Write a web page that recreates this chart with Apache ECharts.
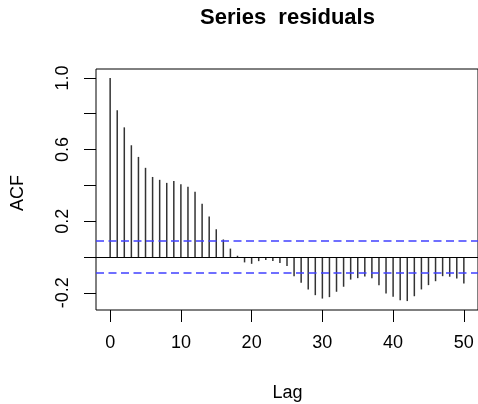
<!DOCTYPE html>
<html>
<head>
<meta charset="utf-8">
<script src="https://cdn.jsdelivr.net/npm/echarts@6/dist/echarts.min.js"></script>
<style>
html,body{margin:0;padding:0;background:#fff;}
#chart{width:478px;height:404px;}
</style>
</head>
<body>
<div id="chart"></div>
<script>
// ---- data ----
const titleText = 'Series  residuals';
const xAxisTitle = 'Lag';
const yAxisTitle = 'ACF';
const lags = [0,1,2,3,4,5,6,7,8,9,10,11,12,13,14,15,16,17,18,19,20,21,22,23,24,25,26,27,28,29,30,31,32,33,34,35,36,37,38,39,40,41,42,43,44,45,46,47,48,49,50];
const acfValues = [1.0, 0.819, 0.724, 0.624, 0.559, 0.498, 0.447, 0.431, 0.414, 0.425, 0.406, 0.392, 0.365, 0.298, 0.226, 0.155, 0.098, 0.047, 0.007, -0.030, -0.038, -0.023, -0.016, -0.022, -0.033, -0.050, -0.107, -0.144, -0.181, -0.213, -0.232, -0.224, -0.194, -0.166, -0.126, -0.118, -0.109, -0.118, -0.157, -0.204, -0.222, -0.241, -0.246, -0.219, -0.181, -0.157, -0.135, -0.107, -0.110, -0.120, -0.148];
const ciBound = 0.088;
const xTicks = [0, 10, 20, 30, 40, 50];
const yTicks = [-0.2, 0, 0.2, 0.4, 0.6, 0.8, 1.0];
const yTickLabels = [-0.2, 0.2, 0.6, 1.0];

// ---- chart ----
const FONT = '"Liberation Sans", Arial, Helvetica, sans-serif';
const chart = echarts.init(document.getElementById('chart'), null, {renderer: 'canvas'});

// R-style axis limits: data range extended by 4%
const xr = [lags[0], lags[lags.length - 1]];
const yr = [Math.min(...acfValues), Math.max(...acfValues)];
const xPad = (xr[1] - xr[0]) * 0.04;
const yPad = (yr[1] - yr[0]) * 0.04;

const option = {
  animation: false,
  backgroundColor: '#fff',
  grid: {
    left: 96, top: 69, width: 384, bottom: 94,
    show: true, borderColor: '#000', borderWidth: 1, backgroundColor: 'transparent'
  },
  xAxis: {
    type: 'value',
    min: xr[0] - xPad, max: xr[1] + xPad,
    axisLine: {show: false, onZero: false},
    splitLine: {show: false},
    axisTick: {show: true, inside: false, length: 12, customValues: xTicks, lineStyle: {color: '#000', width: 1}},
    axisLabel: {show: true, customValues: xTicks, margin: 24, color: '#000', fontSize: 18, fontFamily: FONT,
      formatter: v => String(Math.round(v))}
  },
  yAxis: {
    type: 'value',
    min: yr[0] - yPad, max: yr[1] + yPad,
    axisLine: {show: false, onZero: false},
    splitLine: {show: false},
    axisTick: {show: true, inside: false, length: 12, customValues: yTicks, lineStyle: {color: '#000', width: 1}},
    axisLabel: {show: true, customValues: yTickLabels, rotate: 90, margin: 24, color: '#000', fontSize: 18, fontFamily: FONT,
      formatter: v => v.toFixed(1)}
  },
  graphic: [
    {type: 'text', x: 287.5, y: 18, style: {text: titleText, font: 'bold 22px ' + FONT, fill: '#000', textAlign: 'center', textVerticalAlign: 'middle'}},
    {type: 'text', x: 287.5, y: 393, style: {text: xAxisTitle, font: '18px ' + FONT, fill: '#000', textAlign: 'center', textVerticalAlign: 'middle'}},
    {type: 'text', x: 18.5, y: 193, rotation: Math.PI / 2, style: {text: yAxisTitle, font: '18px ' + FONT, fill: '#000', textAlign: 'center', textVerticalAlign: 'middle'}}
  ],
  series: [
    {
      type: 'bar',
      data: lags.map((l, i) => [l, acfValues[i]]),
      barWidth: 1.5,
      itemStyle: {color: '#333'},
      silent: true,
      markLine: {
        silent: true,
        symbol: 'none',
        label: {show: false},
        data: [
          {yAxis: 0, lineStyle: {color: '#000', type: 'solid', width: 1}},
          {yAxis: ciBound, lineStyle: {color: '#4040ff', type: [8, 4.5], width: 1.5}},
          {yAxis: -ciBound, lineStyle: {color: '#4040ff', type: [8, 4.5], width: 1.5}}
        ]
      }
    }
  ]
};
chart.setOption(option);
</script>
</body>
</html>
